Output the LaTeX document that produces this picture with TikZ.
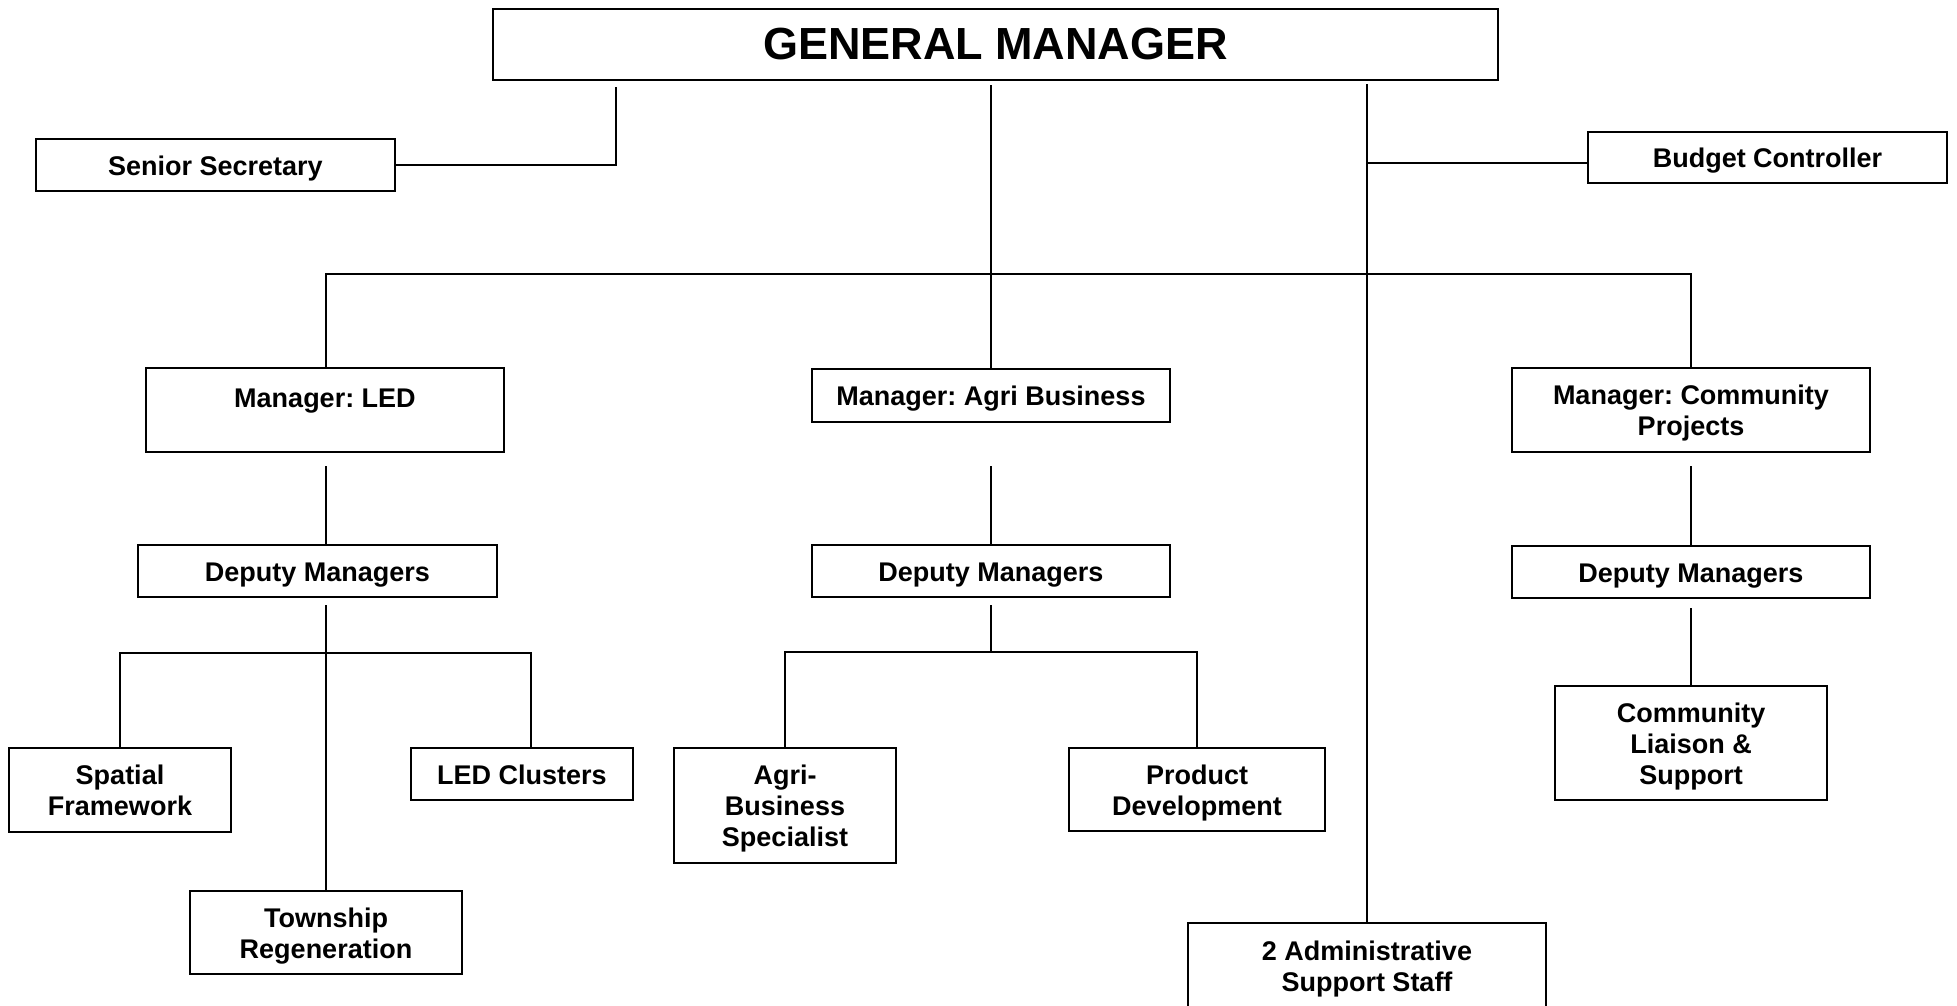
\documentclass[tikz,border=0pt]{standalone}
\usepackage{fontspec}
\setmainfont{Liberation Sans}
% struts that fix the height of the first line and the depth of the last line
\newcommand{\topst}{\rule{0pt}{27pt}}
\newcommand{\botst}{\rule[-7pt]{0pt}{7pt}}
\begin{document}
\frenchspacing
\begin{tikzpicture}[x=1pt,y=-1pt,
  box/.style={draw, line width=2pt, align=center, inner sep=0pt,
              font=\bfseries\fontsize{27}{31}\selectfont},
  link/.style={line width=2pt}]
\useasboundingbox (0,0) rectangle (1957,1005);

% --- top level ---
\node[box, minimum width=1005pt, minimum height=71pt,
      font=\bfseries\fontsize{45}{50}\selectfont] (gm) at (995.5,44.5) {GENERAL MANAGER};
\node[box, minimum width=359pt, minimum height=52pt] (ss) at (215.5,165) {\topst Senior Secretary\botst};
\node[box, minimum width=359pt, minimum height=51pt] (budget) at (1767.5,157.5) {\topst Budget Controller\botst};

% --- managers ---
\node[box, minimum width=358pt, minimum height=84pt] (ledm) at (325,410) {\topst Manager: LED\\\rule[-2pt]{0pt}{2pt}};
\node[box, minimum width=358pt, minimum height=53pt] (agm) at (991,395.5) {\topst Manager: Agri Business\botst};
\node[box, minimum width=358pt, minimum height=84pt] (cpm) at (1691,410) {\topst Manager: Community\\Projects\botst};

% --- deputies ---
\node[box, minimum width=359pt, minimum height=52pt] (ledd) at (317.5,571) {\topst Deputy Managers\botst};
\node[box, minimum width=358pt, minimum height=52pt] (agd) at (991,571) {\topst Deputy Managers\botst};
\node[box, minimum width=358pt, minimum height=52pt] (cpd) at (1691,572) {\topst Deputy Managers\botst};

% --- units ---
\node[box, minimum width=222pt, minimum height=84pt] (sp) at (120,790) {\topst Spatial\\Framework\botst};
\node[box, minimum width=222pt, minimum height=52pt] (ledc) at (522,774) {\topst LED Clusters\botst};
\node[box, minimum width=272pt, minimum height=83pt] (tr) at (326,932.5) {\topst Township\\Regeneration\botst};
\node[box, minimum width=222pt, minimum height=115pt] (as) at (785,805.5) {\topst Agri-\\Business\\Specialist\botst};
\node[box, minimum width=256pt, minimum height=83pt] (pd) at (1197,789.5) {\topst Product\\Development\botst};
\node[box, minimum width=272pt, minimum height=114pt] (cl) at (1691,743) {\topst Community\\Liaison \&\\Support\botst};
\node[box, minimum width=358pt, minimum height=86pt] (admin) at (1367,966) {\topst 2 Administrative\\Support Staff\botst};

% --- connector anchors ---
\coordinate (gmL) at (616,87);
\coordinate (gmC) at (991,85);
\coordinate (gmR) at (1367,84);
\coordinate (bus) at (991,274);
\coordinate (ledm-out) at (326,466);
\coordinate (agm-out) at (991,466);
\coordinate (cpm-out) at (1691,466);
\coordinate (ledd-out) at (326,605);
\coordinate (ledbus) at (326,653);
\coordinate (agd-out) at (991,605);
\coordinate (agbus) at (991,652);
\coordinate (cpd-out) at (1691,608);

% --- connectors ---
\draw[link] (gmL) |- (ss.east);
\draw[link] (gmR) -- (admin.north);
\draw[link] ([yshift=-5.5pt]budget.west) -- ([yshift=-5.5pt]budget.west -| gmR);
\draw[link] (gmC) -- (agm.north);
\draw[link] ([xshift=1pt]ledm.north) |- (bus) -| (cpm.north);

\draw[link] (ledm-out) -- (ledm-out |- ledd.north);
\draw[link] (agm-out) -- (agd.north);
\draw[link] (cpm-out) -- (cpd.north);

\draw[link] (ledd-out) -- (tr.north);
\draw[link] (sp.north) |- (ledbus) -| ([xshift=9pt]ledc.north);

\draw[link] (agd-out) -- (agbus);
\draw[link] (as.north) |- (agbus) -| (pd.north);

\draw[link] (cpd-out) -- (cl.north);
\end{tikzpicture}
\end{document}
